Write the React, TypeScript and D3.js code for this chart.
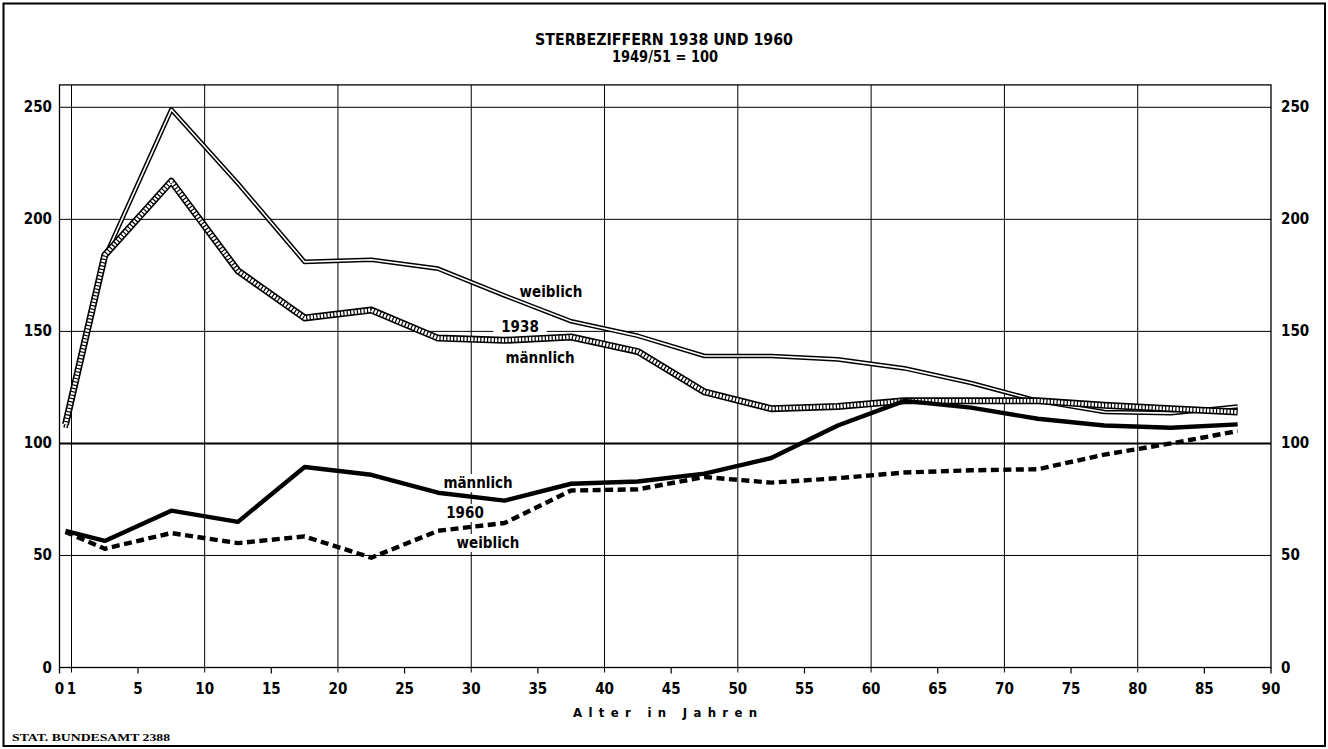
import * as d3 from "d3";
import { useEffect, useRef } from "react";

// age group midpoints (x values)
const ages = [0.5, 3, 7.5, 12.5, 17.5, 22.5, 27.5, 32.5, 37.5, 42.5, 47.5, 52.5, 57.5, 62.5, 67.5, 72.5, 77.5, 82.5, 87.5];

// index values, 1949/51 = 100
const weiblich1938 = [107, 183, 249, 216, 181, 182, 178, 166, 154.5, 148, 139, 139, 137.5, 133.5, 127, 119, 114, 113.5, 116.5];
const maennlich1938 = [108.5, 184, 217, 177, 156, 159.5, 147, 146, 147.5, 141, 123, 115.5, 116.5, 119, 119, 119, 117, 115.5, 114];
const maennlich1960 = [61, 56.5, 70, 65, 89.5, 86, 78, 74.5, 82, 83, 86.5, 93.5, 108, 119, 116, 111, 108, 107, 108.5];
const weiblich1960 = [60.5, 53, 60, 55.5, 58.5, 49, 61, 64.5, 79, 79.5, 85, 82.5, 84.5, 87, 88, 88.5, 95, 100, 105.5];

const xTickLabels = [0, 1, 5, 10, 15, 20, 25, 30, 35, 40, 45, 50, 55, 60, 65, 70, 75, 80, 85, 90];
const xGrid = [1, 10, 20, 30, 40, 50, 60, 70, 80];
const yTicks = [0, 50, 100, 150, 200, 250];

const FONT = "'DejaVu Sans Condensed', 'DejaVu Sans', sans-serif";

export default function App() {
    const svgRef = useRef<SVGSVGElement | null>(null);

    useEffect(() => {
        if (!svgRef.current) return;
        const svg = d3.select(svgRef.current);
        svg.selectAll("*").remove();

        const width = 1328;
        const height = 749;

        const x = d3.scaleLinear().domain([0, 1, 5, 90]).range([59.5, 71.5, 138, 1271]);
        const y = d3.scaleLinear().domain([0, 260]).range([667.5, 84.9]);

        svg.attr("width", width).attr("height", height);

        svg.append("rect")
            .attr("width", width).attr("height", height).attr("fill", "white");

        // outer frame
        svg.append("rect")
            .attr("x", 3.5).attr("y", 3.5)
            .attr("width", 1321.5).attr("height", 742.5)
            .attr("fill", "none").attr("stroke", "black").attr("stroke-width", 2);

        // title
        svg.append("text")
            .attr("x", 664).attr("y", 45)
            .attr("text-anchor", "middle")
            .attr("textLength", 258).attr("lengthAdjust", "spacingAndGlyphs")
            .style("font-family", FONT).style("font-size", "15px").style("font-weight", "bold")
            .text("STERBEZIFFERN 1938 UND 1960");
        svg.append("text")
            .attr("x", 665).attr("y", 62)
            .attr("text-anchor", "middle")
            .attr("textLength", 106).attr("lengthAdjust", "spacingAndGlyphs")
            .style("font-family", FONT).style("font-size", "15px").style("font-weight", "600")
            .text("1949/51 = 100");

        const x0 = x(0), x1 = x(90), yTop = y(260), yBot = y(0);

        // horizontal grid
        svg.append("g").selectAll("line")
            .data(yTicks.filter((d) => d > 0))
            .enter().append("line")
            .attr("x1", x0).attr("x2", x1)
            .attr("y1", (d) => y(d)).attr("y2", (d) => y(d))
            .attr("stroke", "black")
            .attr("stroke-width", (d) => (d === 100 ? 2 : 1));

        // vertical grid + ticks
        svg.append("g").selectAll("line")
            .data(xGrid)
            .enter().append("line")
            .attr("x1", (d) => x(d)).attr("x2", (d) => x(d))
            .attr("y1", yTop).attr("y2", yBot + 5)
            .attr("stroke", "black").attr("stroke-width", 1);

        svg.append("g").selectAll("line")
            .data(xTickLabels.filter((d) => d % 10 === 5))
            .enter().append("line")
            .attr("x1", (d) => x(d)).attr("x2", (d) => x(d))
            .attr("y1", yBot).attr("y2", yBot + 6)
            .attr("stroke", "black").attr("stroke-width", 1.2);

        // plot frame
        svg.append("rect")
            .attr("x", x0).attr("y", yTop)
            .attr("width", x1 - x0).attr("height", yBot - yTop)
            .attr("fill", "none").attr("stroke", "black").attr("stroke-width", 1.3);
        svg.append("g").selectAll("line")
            .data([0, 90])
            .enter().append("line")
            .attr("x1", (d) => x(d)).attr("x2", (d) => x(d))
            .attr("y1", yBot).attr("y2", yBot + 6)
            .attr("stroke", "black").attr("stroke-width", 1.3);

        // y labels both sides
        const tickStyle = (sel: any) => sel
            .style("font-family", FONT).style("font-size", "15px").style("font-weight", "600");
        svg.append("g").selectAll("text")
            .data(yTicks)
            .enter().append("text")
            .attr("x", 52).attr("y", (d) => y(d) + 5)
            .attr("text-anchor", "end")
            .call(tickStyle)
            .text((d) => d);
        svg.append("g").selectAll("text")
            .data(yTicks)
            .enter().append("text")
            .attr("x", 1281).attr("y", (d) => y(d) + 5)
            .attr("text-anchor", "start")
            .call(tickStyle)
            .text((d) => d);

        // x labels
        svg.append("g").selectAll("text")
            .data(xTickLabels)
            .enter().append("text")
            .attr("x", (d) => x(d)).attr("y", 694)
            .attr("text-anchor", "middle")
            .call(tickStyle)
            .text((d) => d);

        svg.append("text")
            .attr("x", 665).attr("y", 717)
            .attr("text-anchor", "middle")
            .attr("textLength", 184).attr("lengthAdjust", "spacing")
            .style("white-space", "pre")
            .style("font-family", FONT).style("font-size", "13px").style("font-weight", "bold")
            .text("A l t e r   i n   J a h r e n");

        svg.append("text")
            .attr("x", 12).attr("y", 741)
            .attr("textLength", 158).attr("lengthAdjust", "spacingAndGlyphs")
            .style("font-family", "'Liberation Serif', serif").style("font-size", "11px").style("font-weight", "bold")
            .text("STAT. BUNDESAMT 2388");

        // label knockouts (behind lines)
        const bgLayer = svg.append("g");
        const lineLayer = svg.append("g");
        const labelLayer = svg.append("g");

        const labels = [
            { t: "weiblich", x: 551, y: 292, pad: 3 },
            { t: "1938", x: 520, y: 327, pad: 8 },
            { t: "männlich", x: 540, y: 358, pad: 3 },
            { t: "männlich", x: 478, y: 483, pad: 3 },
            { t: "1960", x: 465, y: 513, pad: 3 },
            { t: "weiblich", x: 488, y: 543, pad: 3 },
        ];
        labels.forEach((l) => {
            const txt = labelLayer.append("text")
                .attr("x", l.x).attr("y", l.y + 5)
                .attr("text-anchor", "middle")
                .style("font-family", FONT).style("font-size", "15px").style("font-weight", "600")
                .text(l.t);
            const bb = (txt.node() as SVGTextElement).getBBox();
            bgLayer.append("rect")
                .attr("x", bb.x - l.pad).attr("y", bb.y)
                .attr("width", bb.width + 2 * l.pad).attr("height", bb.height)
                .attr("fill", "white");
        });

        const line = d3.line<number>()
            .x((_, i) => x(ages[i]))
            .y((d) => y(d));

        // 1938 weiblich: double line
        lineLayer.append("path").datum(weiblich1938)
            .attr("d", line).attr("fill", "none")
            .attr("stroke", "black").attr("stroke-width", 4.6).attr("stroke-linejoin", "round");
        lineLayer.append("path").datum(weiblich1938)
            .attr("d", line).attr("fill", "none")
            .attr("stroke", "white").attr("stroke-width", 1.6).attr("stroke-linejoin", "round");

        // 1938 männlich: ladder line
        lineLayer.append("path").datum(maennlich1938)
            .attr("d", line).attr("fill", "none")
            .attr("stroke", "black").attr("stroke-width", 7).attr("stroke-linejoin", "round");
        lineLayer.append("path").datum(maennlich1938)
            .attr("d", line).attr("fill", "none")
            .attr("stroke", "white").attr("stroke-width", 3.8)
            .attr("stroke-dasharray", "2.2 1.2").attr("stroke-linejoin", "round");

        // 1960 männlich: heavy solid
        lineLayer.append("path").datum(maennlich1960)
            .attr("d", line).attr("fill", "none")
            .attr("stroke", "black").attr("stroke-width", 4.4).attr("stroke-linejoin", "round");

        // 1960 weiblich: heavy dashed
        lineLayer.append("path").datum(weiblich1960)
            .attr("d", line).attr("fill", "none")
            .attr("stroke", "black").attr("stroke-width", 4.4)
            .attr("stroke-dasharray", "8 4.5").attr("stroke-linejoin", "round");
    }, []);

    return (
        <svg
            ref={svgRef}
            style={{ position: "absolute", left: 0, top: 0, display: "block" }}
        />
    );
}
